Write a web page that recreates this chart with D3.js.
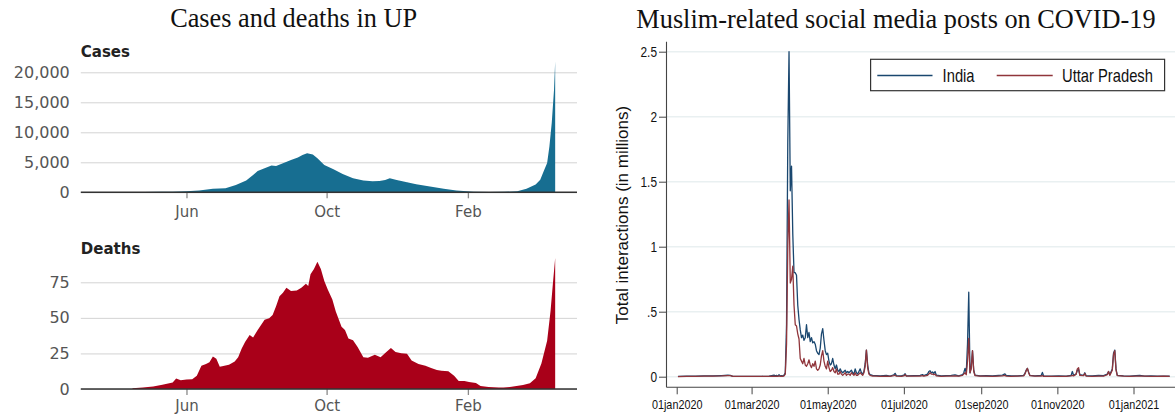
<!DOCTYPE html>
<html><head><meta charset="utf-8">
<script src="https://cdn.jsdelivr.net/npm/d3@7"></script>
<style>body{margin:0;background:#fff} svg{display:block}</style>
</head><body>
<svg id="chart" width="1175" height="416"></svg>
<script>
// ---------- Left panel data: UP daily (7-day avg) cases and deaths ----------
const caseDates = ["2020-03-10","2020-03-25","2020-04-10","2020-04-25","2020-05-10","2020-05-20","2020-06-01","2020-06-12","2020-06-24","2020-07-05","2020-07-14","2020-07-23","2020-07-29","2020-08-02","2020-08-08","2020-08-14","2020-08-18","2020-08-24","2020-08-31","2020-09-06","2020-09-10","2020-09-14","2020-09-19","2020-09-23","2020-09-29","2020-10-07","2020-10-15","2020-10-24","2020-11-02","2020-11-10","2020-11-16","2020-11-21","2020-11-25","2020-12-01","2020-12-10","2020-12-18","2020-12-30","2021-01-11","2021-01-22","2021-02-06","2021-02-20","2021-03-05","2021-03-16","2021-03-24","2021-04-01","2021-04-05","2021-04-08","2021-04-11","2021-04-13","2021-04-15","2021-04-17","2021-04-18"];
const caseValues = [2,10,40,70,80,110,170,280,610,670,1220,1950,2890,3560,4000,4450,4390,4840,5390,5780,6230,6500,6280,5670,4560,3840,3060,2340,1950,1830,1890,2060,2340,2060,1670,1330,950,610,280,110,60,80,170,610,1280,2110,3500,4890,7670,11560,17100,21800];

const deathDates = ["2020-04-15","2020-04-24","2020-05-03","2020-05-11","2020-05-20","2020-05-23","2020-05-27","2020-06-01","2020-06-06","2020-06-10","2020-06-14","2020-06-18","2020-06-21","2020-06-24","2020-06-27","2020-06-30","2020-07-04","2020-07-08","2020-07-13","2020-07-16","2020-07-19","2020-07-22","2020-07-26","2020-07-29","2020-08-02","2020-08-08","2020-08-12","2020-08-15","2020-08-18","2020-08-21","2020-08-24","2020-08-27","2020-08-31","2020-09-05","2020-09-09","2020-09-13","2020-09-15","2020-09-17","2020-09-20","2020-09-23","2020-09-26","2020-09-29","2020-10-02","2020-10-06","2020-10-09","2020-10-14","2020-10-17","2020-10-20","2020-10-24","2020-10-28","2020-11-02","2020-11-06","2020-11-12","2020-11-17","2020-11-22","2020-11-26","2020-11-30","2020-12-05","2020-12-10","2020-12-14","2020-12-20","2020-12-26","2020-12-31","2021-01-05","2021-01-09","2021-01-15","2021-01-20","2021-01-24","2021-01-29","2021-02-02","2021-02-08","2021-02-12","2021-02-19","2021-02-28","2021-03-04","2021-03-11","2021-03-21","2021-03-27","2021-04-01","2021-04-06","2021-04-11","2021-04-14","2021-04-16","2021-04-18"];
const deathValues = [0.5,1,1.7,2.9,4.5,7.4,6.2,6.7,6.9,9.3,16.4,17.6,18.8,22.9,21.2,15.7,16.4,17.1,19.3,22.4,28.3,33.1,37.9,36.2,41.4,48.6,49.8,52.1,58.1,65.2,67.6,71.2,68.8,69.3,71.2,74,72.4,80.7,84.3,89.5,84.3,76,70,62.9,54.5,43.8,41.4,35.5,34.3,29.5,22.4,21.9,24,22.4,26,28.8,26,25.2,24.8,20,17.6,16.4,14.8,13.3,12.9,12.4,9.3,5.7,5.7,5,4.3,2.1,1.4,1,1,1.5,2.8,4,7.5,18,34,55,74,92];

const leftMonthTicks = ["2020-06-01","2020-10-01","2021-02-01"];
const caseTicks = [0,5000,10000,15000,20000];
const deathTicks = [0,25,50,75];

// ---------- Right panel data: total interactions (millions) ----------
// day index = days since 01jan2020
const postDayIndex = [1,8,15,22,29,36,41,43,45,52,60,68,74,78,79,80,81,82,83,84,85,86,87,
 88,89,90,91,92,93,94,95,96,97,98,99,100,101,102,103,104,105,106,107,108,109,110,111,112,113,114,115,116,117,118,119,120,121,122,123,124,125,126,127,128,129,130,131,132,133,134,135,136,137,138,139,140,141,142,143,144,145,146,147,148,149,150,151,152,153,154,155,
 157,160,163,168,171,174,175,176,180,182,183,184,190,195,197,198,201,202,203,204,205,206,207,208,212,216,220,223,226,229,230,231,232,233,234,235,236,237,238,239,243,248,253,258,261,263,264,268,273,278,279,280,281,282,283,287,292,293,294,300,306,312,316,317,318,320,321,322,323,326,327,328,333,338,342,345,346,347,349,350,351,352,353,358,363,368,371,375,380,385,390,395];
const indiaValues = [.003,.004,.004,.006,.007,.009,.011,.010,.003,.002,.002,.003,.004,.012,.006,.010,.004,.015,.006,.009,.005,.012,.03,
 .40,1.80,2.50,1.43,1.62,1.10,.80,.80,.78,.55,.44,.36,.30,.32,.28,.30,.40,.30,.34,.27,.30,.26,.27,.25,.20,.18,.17,.22,.33,.37,.28,.20,.17,.18,.12,.09,.10,.14,.09,.06,.09,.05,.04,.06,.04,.03,.04,.05,.03,.04,.03,.04,.05,.03,.02,.06,.03,.02,.04,.06,.03,.02,.04,.10,.205,.09,.03,.015,
 .01,.008,.006,.01,.005,.015,.026,.008,.006,.012,.023,.006,.008,.01,.016,.008,.02,.04,.046,.03,.036,.025,.04,.012,.006,.008,.01,.014,.007,.015,.03,.064,.03,.25,.65,.03,.08,.2,.05,.012,.006,.008,.006,.01,.012,.022,.01,.006,.007,.01,.025,.05,.064,.035,.01,.006,.01,.033,.006,.005,.006,.005,.01,.04,.01,.02,.05,.055,.015,.01,.03,.008,.006,.01,.008,.02,.04,.015,.06,.18,.205,.06,.01,.006,.005,.008,.01,.005,.006,.004,.005,.004];
const upValues = [.001,.002,.003,.004,.005,.006,.008,.009,.003,.002,.002,.002,.003,.004,.003,.005,.003,.006,.003,.004,.003,.006,.02,
 .25,1.00,1.36,.72,.75,.85,.55,.40,.39,.33,.29,.14,.12,.10,.14,.09,.08,.10,.13,.09,.07,.10,.08,.12,.06,.05,.06,.09,.16,.20,.12,.08,.06,.12,.07,.04,.05,.07,.04,.03,.06,.02,.02,.04,.02,.01,.02,.03,.01,.02,.02,.01,.03,.02,.01,.03,.01,.01,.02,.03,.02,.01,.03,.08,.205,.07,.02,.01,
 .005,.005,.003,.004,.003,.008,.012,.004,.003,.006,.015,.004,.004,.005,.008,.004,.01,.02,.03,.02,.02,.015,.02,.006,.003,.004,.005,.006,.004,.01,.02,.03,.015,.12,.295,.03,.06,.2,.04,.008,.004,.004,.003,.005,.006,.01,.005,.003,.004,.006,.02,.045,.064,.03,.008,.004,.004,.008,.003,.003,.003,.003,.006,.01,.006,.02,.06,.07,.01,.008,.025,.005,.003,.005,.004,.015,.04,.01,.05,.17,.2,.05,.008,.004,.003,.004,.005,.004,.003,.003,.004,.003];

const postYTicks = [0,0.5,1,1.5,2,2.5];
const postXTicks = ["2020-01-01","2020-03-01","2020-05-01","2020-07-01","2020-09-01","2020-11-01","2021-01-01"];
const seriesNames = ["India","Uttar Pradesh"];
const seriesColors = ["#1a476f","#90353b"];

// ---------- drawing ----------
const svg = d3.select("#chart");
const parse = d3.utcParse("%Y-%m-%d");
const TNR = "'Liberation Serif','Times New Roman',serif";
const SANS = "'DejaVu Sans',Verdana,sans-serif";
const ARIAL = "'Liberation Sans',Arial,sans-serif";
const NARROW_SCALE = 0.82;   // condensed look of the Stata labels

// squeeze a text selection horizontally around its own anchor
function narrow(sel) {
  sel.each(function() {
    const t = d3.select(this);
    const x = +(t.attr("x") || 0);
    t.attr("x", 0).attr("font-family", ARIAL)
     .attr("transform", `translate(${x},0) scale(${NARROW_SCALE},1)`);
  });
}

// Titles
svg.append("text").attr("x",293.6).attr("y",27.3).attr("text-anchor","middle")
  .attr("font-family",TNR).attr("font-size",26.3).attr("fill","#111").text("Cases and deaths in UP");
svg.append("text").attr("x",896).attr("y",28.3).attr("text-anchor","middle")
  .attr("font-family",TNR).attr("font-size",26.3).attr("fill","#111").text("Muslim-related social media posts on COVID-19");

// Left panels
const xL = d3.scaleUtc().domain([parse("2020-03-01"), parse("2021-05-07")]).range([80.8, 577]);

function leftPanel(dates, values, ticks, yRange, color, label, labelY, fmt, pad) {
  const y = d3.scaleLinear().domain([ticks[0], ticks[ticks.length-1]]).range(yRange);
  const g = svg.append("g");
  const ya = g.append("g").attr("transform", `translate(${xL.range()[0]},0)`)
    .call(d3.axisLeft(y).tickValues(ticks).tickSize(-(xL.range()[1]-xL.range()[0])).tickPadding(11).tickFormat(fmt));
  ya.select(".domain").remove();
  ya.selectAll(".tick line").attr("stroke","#d3d3d3").attr("stroke-width",1);
  ya.selectAll(".tick text").attr("font-family",SANS).attr("font-size",16).attr("fill","#555");
  const data = dates.map((d,i)=>({date:parse(d), v:values[i]}));
  g.append("path").datum(data)
    .attr("d", d3.area().x(d=>xL(d.date)).y0(y(0)).y1(d=>y(d.v)))
    .attr("fill", color);
  const xa = g.append("g").attr("transform", `translate(0,${y(0)})`)
    .call(d3.axisBottom(xL).tickValues(leftMonthTicks.map(parse)).tickSize(6).tickPadding(pad).tickFormat(d3.utcFormat("%b")));
  xa.select(".domain").remove();
  xa.selectAll(".tick line").attr("stroke","#8a8a8a").attr("stroke-width",1.3);
  xa.selectAll(".tick text").attr("font-family",SANS).attr("font-size",15).attr("fill","#555");
  g.append("line").attr("x1",xL.range()[0]).attr("x2",xL.range()[1]).attr("y1",y(0)).attr("y2",y(0))
    .attr("stroke","#333").attr("stroke-width",1.6);
  g.append("text").attr("x",80.8).attr("y",labelY).attr("font-family",SANS).attr("font-weight","bold")
    .attr("font-size",15).attr("fill","#222").text(label);
}
leftPanel(caseDates, caseValues, caseTicks, [192.3, 72.3], "#176e91", "Cases", 57.3, d3.format(","), 8);
leftPanel(deathDates, deathValues, deathTicks, [389, 282.3], "#a90019", "Deaths", 254, d3.format("d"), 5.5);

// Right panel
const xR = d3.scaleUtc().domain([parse("2020-01-01"), parse("2021-01-01")]).range([676.7, 1133.5]);
const yR = d3.scaleLinear().domain([0, 2.5]).range([376.7, 51.7]);
const axX = 666.5, axY = 387.3;
const gR = svg.append("g");
gR.selectAll("line.grid").data(postYTicks).join("line").attr("class","grid")
  .attr("x1",axX).attr("x2",1175).attr("y1",d=>yR(d)).attr("y2",d=>yR(d))
  .attr("stroke","#e9f0f1").attr("stroke-width",1.6);
const day0 = parse("2020-01-01");
const pts = postDayIndex.map((d,i)=>({date:d3.utcDay.offset(day0,d), india:indiaValues[i], up:upValues[i]}));
[["india",0],["up",1]].forEach(([k,i])=>{
  gR.append("path").datum(pts)
    .attr("d", d3.line().x(d=>xR(d.date)).y(d=>yR(d[k])))
    .attr("fill","none").attr("stroke",seriesColors[i]).attr("stroke-width",1.3).attr("stroke-linejoin","round");
});
const yAx = gR.append("g").attr("transform",`translate(${axX},0)`)
  .call(d3.axisLeft(yR).tickValues(postYTicks).tickSize(7.5).tickPadding(2)
    .tickFormat(d => d===0 ? "0" : String(d).replace(/^0\./,".")));
yAx.select(".domain").remove();
yAx.selectAll(".tick line").attr("stroke","#444").attr("stroke-width",1);
yAx.selectAll(".tick text").attr("font-size",14.5).attr("fill","#111").call(narrow);
gR.append("line").attr("x1",axX).attr("x2",axX).attr("y1",41.7).attr("y2",axY).attr("stroke","#444").attr("stroke-width",1.1);
const xAx = gR.append("g").attr("transform",`translate(0,${axY})`)
  .call(d3.axisBottom(xR).tickValues(postXTicks.map(parse)).tickSize(7).tickPadding(5)
    .tickFormat(d => d3.utcFormat("%d%b%Y")(d).toLowerCase()));
xAx.select(".domain").remove();
xAx.selectAll(".tick line").attr("stroke","#444").attr("stroke-width",1);
xAx.selectAll(".tick text").attr("font-size",13.2).attr("fill","#111").call(narrow);
gR.append("line").attr("x1",axX).attr("x2",1175).attr("y1",axY).attr("y2",axY).attr("stroke","#444").attr("stroke-width",1.1);
gR.append("text").attr("transform","translate(627.7,215) rotate(-90)").attr("text-anchor","middle")
  .attr("font-family",ARIAL).attr("font-size",17).attr("fill","#111").text("Total interactions (in millions)");
// legend
const lg = gR.append("g");
lg.append("rect").attr("x",870.6).attr("y",59.3).attr("width",294).attr("height",31.4)
  .attr("fill","#fff").attr("stroke","#333").attr("stroke-width",1.2);
const legX = [[877.3,932.5,942.6],[996.7,1052.7,1062]];
seriesNames.forEach((n,i)=>{
  lg.append("line").attr("x1",legX[i][0]).attr("x2",legX[i][1]).attr("y1",75.5).attr("y2",75.5)
    .attr("stroke",seriesColors[i]).attr("stroke-width",1.3);
  lg.append("text").attr("x",legX[i][2]).attr("y",81.7).attr("font-size",18)
    .attr("fill","#111").text(n).call(narrow);
});
</script>
</body></html>
